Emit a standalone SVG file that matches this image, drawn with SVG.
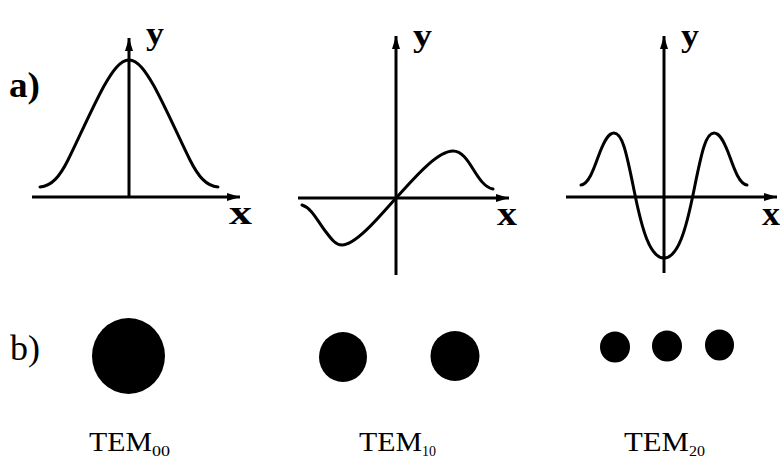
<svg xmlns="http://www.w3.org/2000/svg" width="780" height="460" viewBox="0 0 780 460">
<style>
.ax{stroke:#000;stroke-width:3;fill:none}
.cv{stroke:#000;stroke-width:3;fill:none;stroke-linecap:round;stroke-linejoin:round}
.lbl{font-family:"Liberation Serif","Times New Roman",serif;fill:#000}
.b{font-weight:bold}
.spot{fill:#000}
</style>
<defs>
<marker id="arr" markerUnits="userSpaceOnUse" markerWidth="14" markerHeight="10" refX="13" refY="5" orient="auto">
<path d="M0,1 L13,5 L0,9 Z" fill="#000"/>
</marker>
</defs>
<rect width="780" height="460" fill="#fff"/>
<text class="lbl b" x="9" y="97" font-size="36" textLength="31" lengthAdjust="spacingAndGlyphs">a)</text>
<text class="lbl" x="10" y="360" font-size="36" textLength="30" lengthAdjust="spacingAndGlyphs">b)</text>
<g id="connectors">
<line class="ax" x1="32" y1="197" x2="240" y2="197" marker-end="url(#arr)"/>
<line class="ax" x1="129" y1="197" x2="129" y2="38" marker-end="url(#arr)"/>
<line class="ax" x1="298" y1="198" x2="509" y2="198" marker-end="url(#arr)"/>
<line class="ax" x1="396" y1="275" x2="396" y2="36" marker-end="url(#arr)"/>
<line class="ax" x1="566" y1="197" x2="777" y2="197" marker-end="url(#arr)"/>
<line class="ax" x1="664" y1="273" x2="664" y2="36" marker-end="url(#arr)"/>
</g>
<g id="plot-tem00">
<path class="cv" d="M40,187 C52,186 60,176 68,160 C78,140 92,108 104,86 C112,72 120,60 129,60 C138,60 146,72 154,86 C166,108 180,140 190,160 C198,176 206,186 218,187"/>
<text class="lbl b" x="146" y="44" font-size="31" textLength="18" lengthAdjust="spacingAndGlyphs">y</text>
<text class="lbl b" x="229" y="224" font-size="34" textLength="23" lengthAdjust="spacingAndGlyphs">x</text>
</g>
<g id="plot-tem10">
<path class="cv" d="M302,205 C312,208 318,222 326,232 C332,240 336,245 342,245 C356,245 380,216 396,198 C410,183 436,151 453,151 C470,151 476,186 493,189"/>
<text class="lbl b" x="413" y="46" font-size="31" textLength="19" lengthAdjust="spacingAndGlyphs">y</text>
<text class="lbl b" x="497" y="225" font-size="34" textLength="20" lengthAdjust="spacingAndGlyphs">x</text>
</g>
<g id="plot-tem20">
<path class="cv" d="M581,185 C590,184 596,162 600,152 C604,142 608,133 614,133 C622,133 626,150 634,190 C642,230 650,258 664,258 C678,258 686,230 694,190 C702,150 706,133 714,133 C720,133 724,142 728,152 C732,162 738,184 747,185"/>
<text class="lbl b" x="681" y="46" font-size="31" textLength="18" lengthAdjust="spacingAndGlyphs">y</text>
<text class="lbl b" x="762" y="225" font-size="34" textLength="18" lengthAdjust="spacingAndGlyphs">x</text>
</g>
<g id="mode-tem00">
<ellipse class="spot" cx="128.5" cy="356" rx="36.5" ry="38"/>
<text class="lbl" x="89" y="451" font-size="27" textLength="63" lengthAdjust="spacingAndGlyphs">TEM</text>
<text class="lbl" x="152" y="456" font-size="15" textLength="18" lengthAdjust="spacingAndGlyphs">00</text>
</g>
<g id="mode-tem10">
<ellipse class="spot" cx="343" cy="357" rx="24" ry="25"/>
<ellipse class="spot" cx="455" cy="356" rx="24.5" ry="25"/>
<text class="lbl" x="359" y="451" font-size="27" textLength="63" lengthAdjust="spacingAndGlyphs">TEM</text>
<text class="lbl" x="422" y="456" font-size="15" textLength="14" lengthAdjust="spacingAndGlyphs">10</text>
</g>
<g id="mode-tem20">
<ellipse class="spot" cx="615" cy="347" rx="15" ry="15.5"/>
<ellipse class="spot" cx="667" cy="346" rx="15" ry="15.5"/>
<ellipse class="spot" cx="719.5" cy="345" rx="14.5" ry="15.5"/>
<text class="lbl" x="624" y="451" font-size="27" textLength="65" lengthAdjust="spacingAndGlyphs">TEM</text>
<text class="lbl" x="689" y="456" font-size="15" textLength="16" lengthAdjust="spacingAndGlyphs">20</text>
</g>
</svg>
